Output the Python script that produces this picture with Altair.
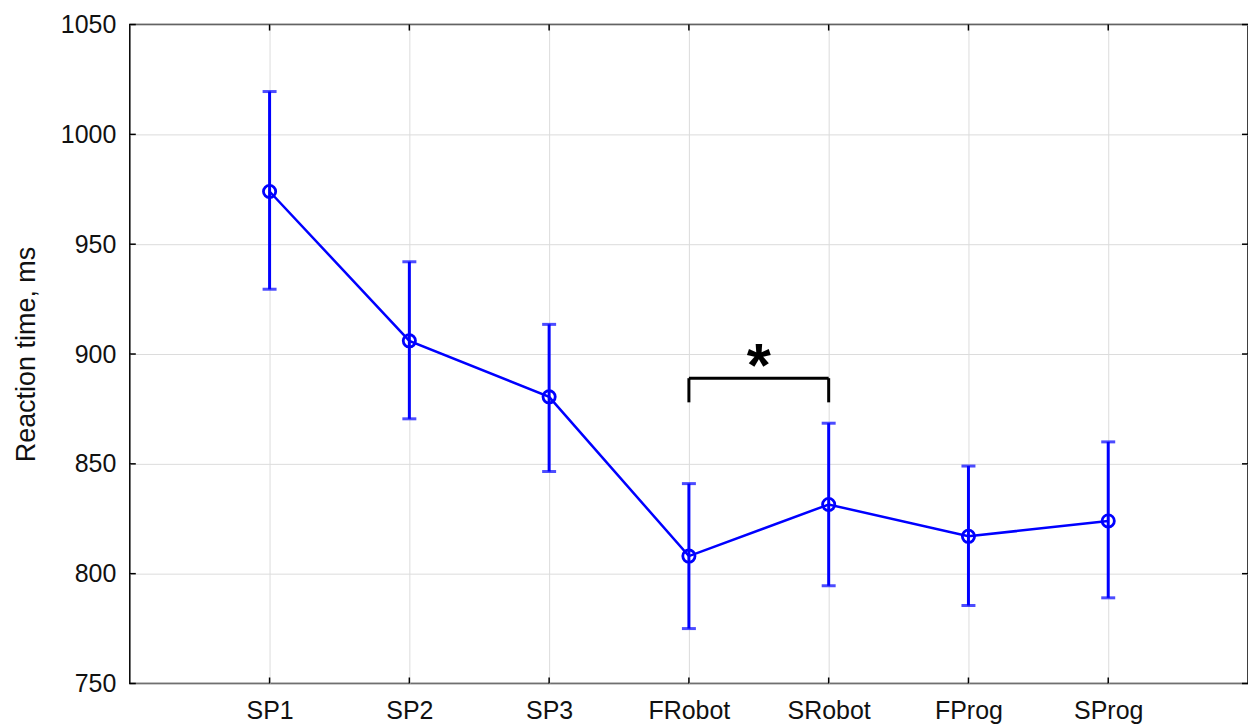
import altair as alt
import pandas as pd

categories = ["SP1", "SP2", "SP3", "FRobot", "SRobot", "FProg", "SProg"]
means = [974, 906, 880.5, 808, 831.5, 817, 824]
upper = [1019.5, 942, 913.5, 841, 868.5, 849, 860]
lower = [929.5, 870.5, 846.5, 775, 794.5, 785.5, 789]
y_ticks = [750, 800, 850, 900, 950, 1000, 1050]

# significance bracket between FRobot and SRobot
bracket_from = "FRobot"
bracket_to = "SRobot"
bracket_top = 889
bracket_bottom = 878
star_label = "*"

idx = list(range(1, len(categories) + 1))
df = pd.DataFrame({"i": idx, "cat": categories, "mean": means, "lo": lower, "hi": upper})

label_expr = "[" + ",".join(f"'{c}'" for c in [""] + categories + [""]) + "][datum.value]"

FONT = "Liberation Sans"
BLUE = "#0000ff"

xscale = alt.Scale(domain=[0, len(categories) + 1], nice=False, zero=False)
yscale = alt.Scale(domain=[750, 1050], nice=False, zero=False)

x_enc = alt.X("i:Q", scale=xscale,
              axis=alt.Axis(values=idx, labelExpr=label_expr, title=None, grid=True,
                            gridColor="#dcdcdc", domain=False, tickSize=0,
                            labelFontSize=25, labelFont=FONT, labelColor="#111",
                            labelPadding=15))
y_enc = alt.Y("mean:Q", scale=yscale,
              axis=alt.Axis(values=y_ticks, format="d", title="Reaction time, ms", grid=True,
                            gridColor="#dcdcdc", domain=False, tickSize=0,
                            labelFontSize=25, labelFont=FONT, labelColor="#111",
                            labelPadding=14, titleFontSize=27, titleFont=FONT,
                            titleFontWeight="normal", titleColor="#111", titlePadding=20))

base = alt.Chart(df)

line = base.mark_line(color=BLUE, strokeWidth=2.5).encode(x=x_enc, y=y_enc)
err = base.mark_rule(color=BLUE, strokeWidth=3).encode(x="i:Q", y="lo:Q", y2="hi:Q")
cap_hi = base.mark_tick(color=BLUE, orient="horizontal", size=14, thickness=3).encode(x="i:Q", y="hi:Q")
cap_lo = base.mark_tick(color=BLUE, orient="horizontal", size=14, thickness=3).encode(x="i:Q", y="lo:Q")
pts = base.mark_point(shape="circle", color=BLUE, filled=False, size=150, strokeWidth=2.8, opacity=1).encode(x="i:Q", y="mean:Q")

# inward axis ticks
yt = pd.DataFrame({"v": y_ticks})
xt = pd.DataFrame({"i": idx})
tick_left = alt.Chart(yt).mark_rule(color="black", strokeWidth=1.5).encode(
    y="v:Q", x=alt.value(0), x2=alt.value(6))
tick_right = alt.Chart(yt).mark_rule(color="black", strokeWidth=1.5).encode(
    y="v:Q", x=alt.value(1114), x2=alt.value(1120))
tick_bottom = alt.Chart(xt).mark_rule(color="black", strokeWidth=1.5).encode(
    x="i:Q", y=alt.value(654), y2=alt.value(660))
tick_top = alt.Chart(xt).mark_rule(color="black", strokeWidth=1.5).encode(
    x="i:Q", y=alt.value(0), y2=alt.value(6))

bi = idx[categories.index(bracket_from)]
bj = idx[categories.index(bracket_to)]
br = pd.DataFrame({"a": [bi], "b": [bj], "top": [bracket_top], "bot": [bracket_bottom],
                   "mid": [(bi + bj) / 2], "lab": [star_label]})
br_h = alt.Chart(br).mark_rule(color="black", strokeWidth=3).encode(x="a:Q", x2="b:Q", y="top:Q")
br_l = alt.Chart(br).mark_rule(color="black", strokeWidth=3).encode(x="a:Q", y="bot:Q", y2="top:Q")
br_r = alt.Chart(br).mark_rule(color="black", strokeWidth=3).encode(x="b:Q", y="bot:Q", y2="top:Q")
star = alt.Chart(br).mark_text(fontSize=62, fontWeight="bold", font=FONT, color="black",
                               baseline="alphabetic", align="center", dy=8).encode(
    x="mid:Q", y="top:Q", text="lab:N")

chart = alt.layer(
    line, err, cap_hi, cap_lo, pts,
    tick_left, tick_right, tick_bottom, tick_top,
    br_h, br_l, br_r, star
).properties(
    width=1120, height=660,
    autosize=alt.AutoSizeParams(type="none"),
    padding={"left": 122, "top": 16, "right": 0, "bottom": 44},
    background="white",
).configure_view(stroke="black", strokeWidth=1.5)

chart.save("out.html", embed_options={"renderer": "svg", "actions": False})
